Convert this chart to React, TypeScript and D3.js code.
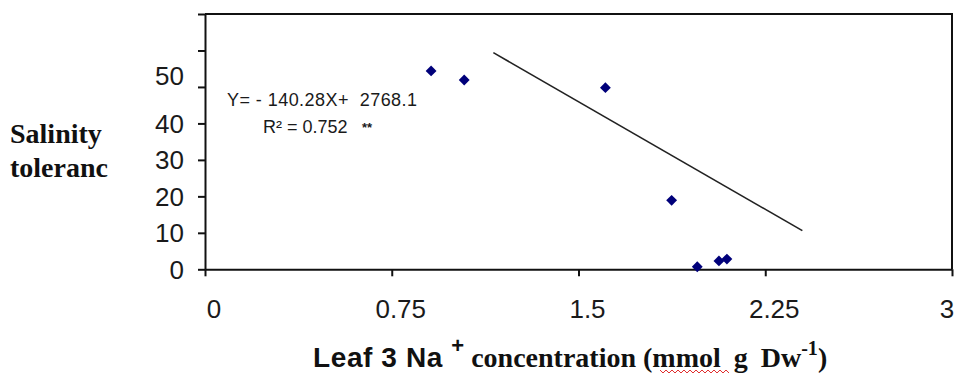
import React, { useEffect, useRef } from 'react';
import * as d3 from 'd3';

// Leaf 3 Na+ concentration vs salinity tolerance
const naConc = [0.908, 1.041, 1.608, 1.874, 1.977, 2.064, 2.096];
const tolerance = [54.4, 51.9, 49.8, 18.9, 0.7, 2.3, 2.8];

// fitted regression line end points
const trendX = [1.158, 2.399];
const trendY = [59.4, 10.6];

const xTicks = [0, 0.75, 1.5, 2.25, 3];
const xTickLabels = ['0', '0.75', '1.5', '2.25', '3'];
const yTicks = [0, 10, 20, 30, 40, 50, 60, 70];
const yTickLabels = ['0', '10', '20', '30', '40', '50'];

const equationText = 'Y= - 140.28X+  2768.1';
const r2Text = 'R² = 0.752';

function App() {
  const ref = useRef<SVGSVGElement | null>(null);

  useEffect(() => {
    drawChart();
  });

  function drawChart() {
    const width = 957;
    const height = 376;
    const left = 205, right = 952, top = 14, bottom = 269.3;

    const svg = d3.select(ref.current);
    svg.selectAll('*').remove();
    svg.attr('width', width).attr('height', height).style('background', 'white');

    const xScale = d3.scaleLinear().domain([0, 3]).range([left, right]);
    const yScale = d3.scaleLinear().domain([0, 70]).range([bottom, top]);

    // frame: top and right
    svg.append('path')
      .attr('d', `M${left},${top}H${right}V${bottom}`)
      .attr('fill', 'none')
      .attr('stroke', '#111')
      .attr('stroke-width', 2);

    // y axis
    const yAxis = svg.append('g')
      .attr('transform', `translate(${left},0)`)
      .call(d3.axisLeft(yScale).tickValues(yTicks).tickSize(7).tickSizeOuter(0).tickFormat(() => ''));
    yAxis.selectAll('path, line').attr('stroke', '#111').attr('stroke-width', 2);

    // x axis
    const xAxis = svg.append('g')
      .attr('transform', `translate(0,${bottom})`)
      .call(d3.axisBottom(xScale).tickValues(xTicks).tickSize(7).tickSizeOuter(0).tickFormat(() => ''));
    xAxis.selectAll('path, line').attr('stroke', '#111').attr('stroke-width', 2);

    // y tick labels (the "50" sits a bit higher in the original)
    svg.append('g')
      .selectAll('text')
      .data(yTickLabels)
      .enter()
      .append('text')
        .text((d) => d)
        .attr('x', 184)
        .attr('y', (d, i) => yScale(+d) + (i === 5 ? -11 : 0))
        .attr('dy', '0.36em')
        .attr('text-anchor', 'end')
        .style('font-family', '"Liberation Sans", Arial, sans-serif')
        .style('font-size', '26px')
        .style('fill', '#1a1a1a');

    // x tick labels
    const lastX = xTickLabels.length - 1;
    svg.append('g')
      .selectAll('text')
      .data(xTickLabels)
      .enter()
      .append('text')
        .text((d) => d)
        .attr('x', (d, i) => xScale(xTicks[i]) + (i === lastX ? -5 : 9))
        .attr('y', 318)
        .attr('text-anchor', 'middle')
        .style('font-family', '"Liberation Sans", Arial, sans-serif')
        .style('font-size', '26px')
        .style('fill', '#1a1a1a');

    // trend line
    const line = d3.line<number>()
      .x((d, i) => xScale(trendX[i]))
      .y((d) => yScale(d));
    svg.append('path')
      .datum(trendY)
      .attr('d', line)
      .attr('fill', 'none')
      .attr('stroke', '#222')
      .attr('stroke-width', 1.6);

    // points
    const diamond = d3.symbol().type(d3.symbolDiamond2).size(75);
    svg.append('g')
      .selectAll('path')
      .data(naConc)
      .enter()
      .append('path')
        .attr('d', diamond)
        .attr('transform', (d, i) => `translate(${xScale(d)},${yScale(tolerance[i])})`)
        .attr('fill', '#00007a');

    // regression equation
    const eq = svg.append('g')
      .style('font-family', '"Liberation Sans", Arial, sans-serif')
      .style('fill', '#1a1a1a');
    eq.append('text')
      .attr('x', 227).attr('y', 106)
      .attr('textLength', 190).attr('lengthAdjust', 'spacing')
      .style('font-size', '18px')
      .style('white-space', 'pre')
      .text(equationText);
    eq.append('text')
      .attr('x', 263).attr('y', 133)
      .style('font-size', '18px')
      .text(r2Text);
    eq.append('text')
      .attr('x', 362).attr('y', 132)
      .style('font-size', '13px')
      .style('font-weight', 'bold')
      .text('**');

    // y axis title
    const yTitle = svg.append('text')
      .style('font-family', '"Liberation Serif", "Times New Roman", serif')
      .style('font-weight', 'bold')
      .style('font-size', '28px')
      .style('fill', '#111');
    yTitle.append('tspan').attr('x', 10).attr('y', 143).text('Salinity');
    yTitle.append('tspan').attr('x', 10).attr('y', 177).text('toleranc');

    // x axis title
    const xTitle = svg.append('text')
      .attr('x', 313).attr('y', 367)
      .style('font-weight', 'bold')
      .style('fill', '#111');
    xTitle.append('tspan')
      .style('font-family', '"Liberation Sans", Arial, sans-serif')
      .style('font-size', '28px')
      .style('letter-spacing', '0.6px')
      .text('Leaf 3 Na ');
    xTitle.append('tspan')
      .attr('dy', -14)
      .style('font-family', '"Liberation Sans", Arial, sans-serif')
      .style('font-size', '22px')
      .text('+');
    xTitle.append('tspan')
      .attr('dy', 14)
      .style('font-family', '"Liberation Serif", "Times New Roman", serif')
      .style('font-size', '28px')
      .text(' concentration ');
    xTitle.append('tspan')
      .style('font-family', '"Liberation Serif", "Times New Roman", serif')
      .style('font-size', '28px')
      .style('word-spacing', '6px')
      .text('(mmol g Dw');
    xTitle.append('tspan')
      .attr('dy', -12)
      .style('font-family', '"Liberation Serif", "Times New Roman", serif')
      .style('font-size', '20px')
      .text('-1');
    xTitle.append('tspan')
      .attr('dy', 12)
      .style('font-family', '"Liberation Serif", "Times New Roman", serif')
      .style('font-size', '28px')
      .text(')');

    // spell-check squiggle under "mmol"
    const sq = d3.range(0, 72, 3).map((d, i) => [660 + d, i % 2 ? 373 : 370] as [number, number]);
    svg.append('path')
      .attr('d', d3.line()(sq))
      .attr('fill', 'none')
      .attr('stroke', '#e03030')
      .attr('stroke-width', 1);
  }

  return (
    <svg ref={ref} style={{ position: 'absolute', left: 0, top: 0, display: 'block' }} />
  );
}

export default App;
